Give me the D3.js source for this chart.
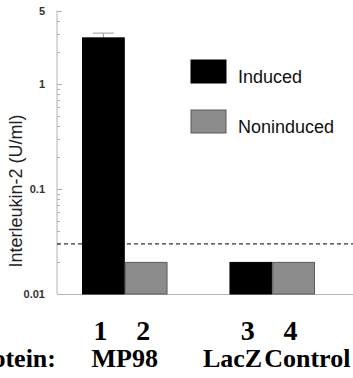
<!DOCTYPE html>
<html>
<head>
<meta charset="utf-8">
<script src="https://cdn.jsdelivr.net/npm/d3@7/dist/d3.min.js"></script>
<style>
  html, body { margin: 0; padding: 0; background: #fff; }
  svg { display: block; }
</style>
</head>
<body>
<svg id="chart" width="353" height="378"></svg>
<script>
// ---- data ----
const lanes = ["1", "2", "3", "4"];
const laneGroups = ["MP98", "MP98", "LacZ", "Control"];
const laneSeries = ["Induced", "Noninduced", "Induced", "Noninduced"];
const laneValues = [2.75, 0.02, 0.02, 0.02];
const laneErrorTop = [3.05, null, null, null];
const thresholdValue = 0.03;
const yTickValues = [0.01, 0.1, 1, 5];
const yTickLabels = ["0.01", "0.1", "1", "5"];
const seriesNames = ["Induced", "Noninduced"];
const proteinLabels = ["MP98", "LacZ", "Control"];

// ---- layout ----
const svg = d3.select("#chart");
const W = 353, H = 378;
const axisX = 57, baseY = 294, topY = 10.6;

const y = d3.scaleLog().domain([0.01, 5]).range([baseY, topY]);
const color = d3.scaleOrdinal().domain(seriesNames).range(["#000000", "#8c8c8c"]);
const strokeC = d3.scaleOrdinal().domain(seriesNames).range(["#000000", "#5a5a5a"]);

// lanes paired into two blocks
const blocks = ["A", "B"];
const laneBlock = ["A", "A", "B", "B"];
const outer = d3.scaleBand().domain(blocks).range([82, 315]).paddingInner(0.42);
const inner = d3.scaleBand().domain([0, 1]).range([0, outer.bandwidth()]);
const laneX = i => outer(laneBlock[i]) + inner(i % 2);
const bw = inner.bandwidth();

// ---- y axis ----
svg.append("line")
  .attr("x1", axisX).attr("x2", axisX).attr("y1", topY).attr("y2", baseY)
  .attr("stroke", "#b5b5b5").attr("stroke-width", 1);

const minor = y.ticks().filter(v => v <= 5);
svg.append("g").selectAll("line").data(minor).join("line")
  .attr("x1", axisX).attr("x2", d => yTickValues.includes(d) ? axisX + 5 : axisX + 3)
  .attr("y1", d => Math.round(y(d)) + 0.5).attr("y2", d => Math.round(y(d)) + 0.5)
  .attr("stroke", "#b0b0b0").attr("stroke-width", 1);
svg.append("line")
  .attr("x1", axisX).attr("x2", axisX + 3)
  .attr("y1", Math.round(y(5)) + 0.5).attr("y2", Math.round(y(5)) + 0.5)
  .attr("stroke", "#b0b0b0");

svg.append("g").selectAll("text").data(yTickValues).join("text")
  .attr("x", 45).attr("y", d => y(d) + 4)
  .attr("text-anchor", "end")
  .attr("font-family", "Liberation Sans, Arial, sans-serif")
  .attr("font-size", 11).attr("font-weight", "bold")
  .attr("fill", "#333")
  .text((d, i) => yTickLabels[i]);

svg.append("text")
  .attr("transform", `translate(22, ${(112 + 270) / 2}) rotate(-90)`)
  .attr("text-anchor", "middle")
  .attr("font-family", "Liberation Sans, Arial, sans-serif")
  .attr("font-size", 18)
  .attr("fill", "#222")
  .text("Interleukin-2 (U/ml)");

// ---- baseline ----
svg.append("line")
  .attr("x1", axisX).attr("x2", W).attr("y1", baseY + 0.5).attr("y2", baseY + 0.5)
  .attr("stroke", "#b5b5b5").attr("stroke-width", 1);

// ---- threshold ----
svg.append("line")
  .attr("x1", axisX).attr("x2", W)
  .attr("y1", y(thresholdValue)).attr("y2", y(thresholdValue))
  .attr("stroke", "#333").attr("stroke-width", 1.2)
  .attr("stroke-dasharray", "4,3");

// ---- error bars ----
lanes.forEach((l, i) => {
  if (laneErrorTop[i] == null) return;
  const cx = laneX(i) + bw / 2;
  svg.append("line").attr("x1", cx).attr("x2", cx)
    .attr("y1", y(laneErrorTop[i])).attr("y2", y(laneValues[i]))
    .attr("stroke", "#999");
  svg.append("line").attr("x1", cx - 10.5).attr("x2", cx + 10.5)
    .attr("y1", y(laneErrorTop[i])).attr("y2", y(laneErrorTop[i]))
    .attr("stroke", "#aaa").attr("stroke-width", 1.2);
});

// ---- bars ----
svg.append("g").selectAll("rect").data(lanes).join("rect")
  .attr("x", (d, i) => laneX(i) + 0.5)
  .attr("width", bw - 1)
  .attr("y", (d, i) => y(laneValues[i]))
  .attr("height", (d, i) => baseY - y(laneValues[i]))
  .attr("fill", (d, i) => color(laneSeries[i]))
  .attr("stroke", (d, i) => strokeC(laneSeries[i]))
  .attr("stroke-width", 1);

// ---- legend ----
const legY = [60, 110];
seriesNames.forEach((s, i) => {
  svg.append("rect").attr("x", 191).attr("y", legY[i]).attr("width", 35).attr("height", 23)
    .attr("fill", color(s)).attr("stroke", strokeC(s)).attr("stroke-width", 1);
  svg.append("text").attr("x", 238).attr("y", legY[i] + 23)
    .attr("font-family", "Liberation Sans, Arial, sans-serif")
    .attr("font-size", 18).attr("fill", "#111")
    .text(s);
});

// ---- lane numbers ----
const serif = "Liberation Serif, Times New Roman, serif";
svg.append("g").selectAll("text").data(lanes).join("text")
  .attr("x", (d, i) => laneX(i) + bw / 2 - 3)
  .attr("y", 340)
  .attr("text-anchor", "middle")
  .attr("font-family", serif).attr("font-weight", "bold").attr("font-size", 28)
  .attr("fill", "#000")
  .text(d => d);

// ---- protein labels ----
svg.append("text").attr("x", 56).attr("y", 367).attr("text-anchor", "end")
  .attr("font-family", serif).attr("font-weight", "bold").attr("font-size", 26)
  .text("Protein:");
svg.append("text").attr("x", outer("A") + outer.bandwidth() / 2).attr("y", 367).attr("text-anchor", "middle")
  .attr("font-family", serif).attr("font-weight", "bold").attr("font-size", 26)
  .text(proteinLabels[0]);
svg.append("text").attr("x", laneX(2) + bw - 10).attr("y", 367).attr("text-anchor", "end")
  .attr("font-family", serif).attr("font-weight", "bold").attr("font-size", 26)
  .text(proteinLabels[1]);
svg.append("text").attr("x", laneX(3) - 8).attr("y", 367).attr("text-anchor", "start")
  .attr("font-family", serif).attr("font-weight", "bold").attr("font-size", 26)
  .text(proteinLabels[2]);
</script>
</body>
</html>
